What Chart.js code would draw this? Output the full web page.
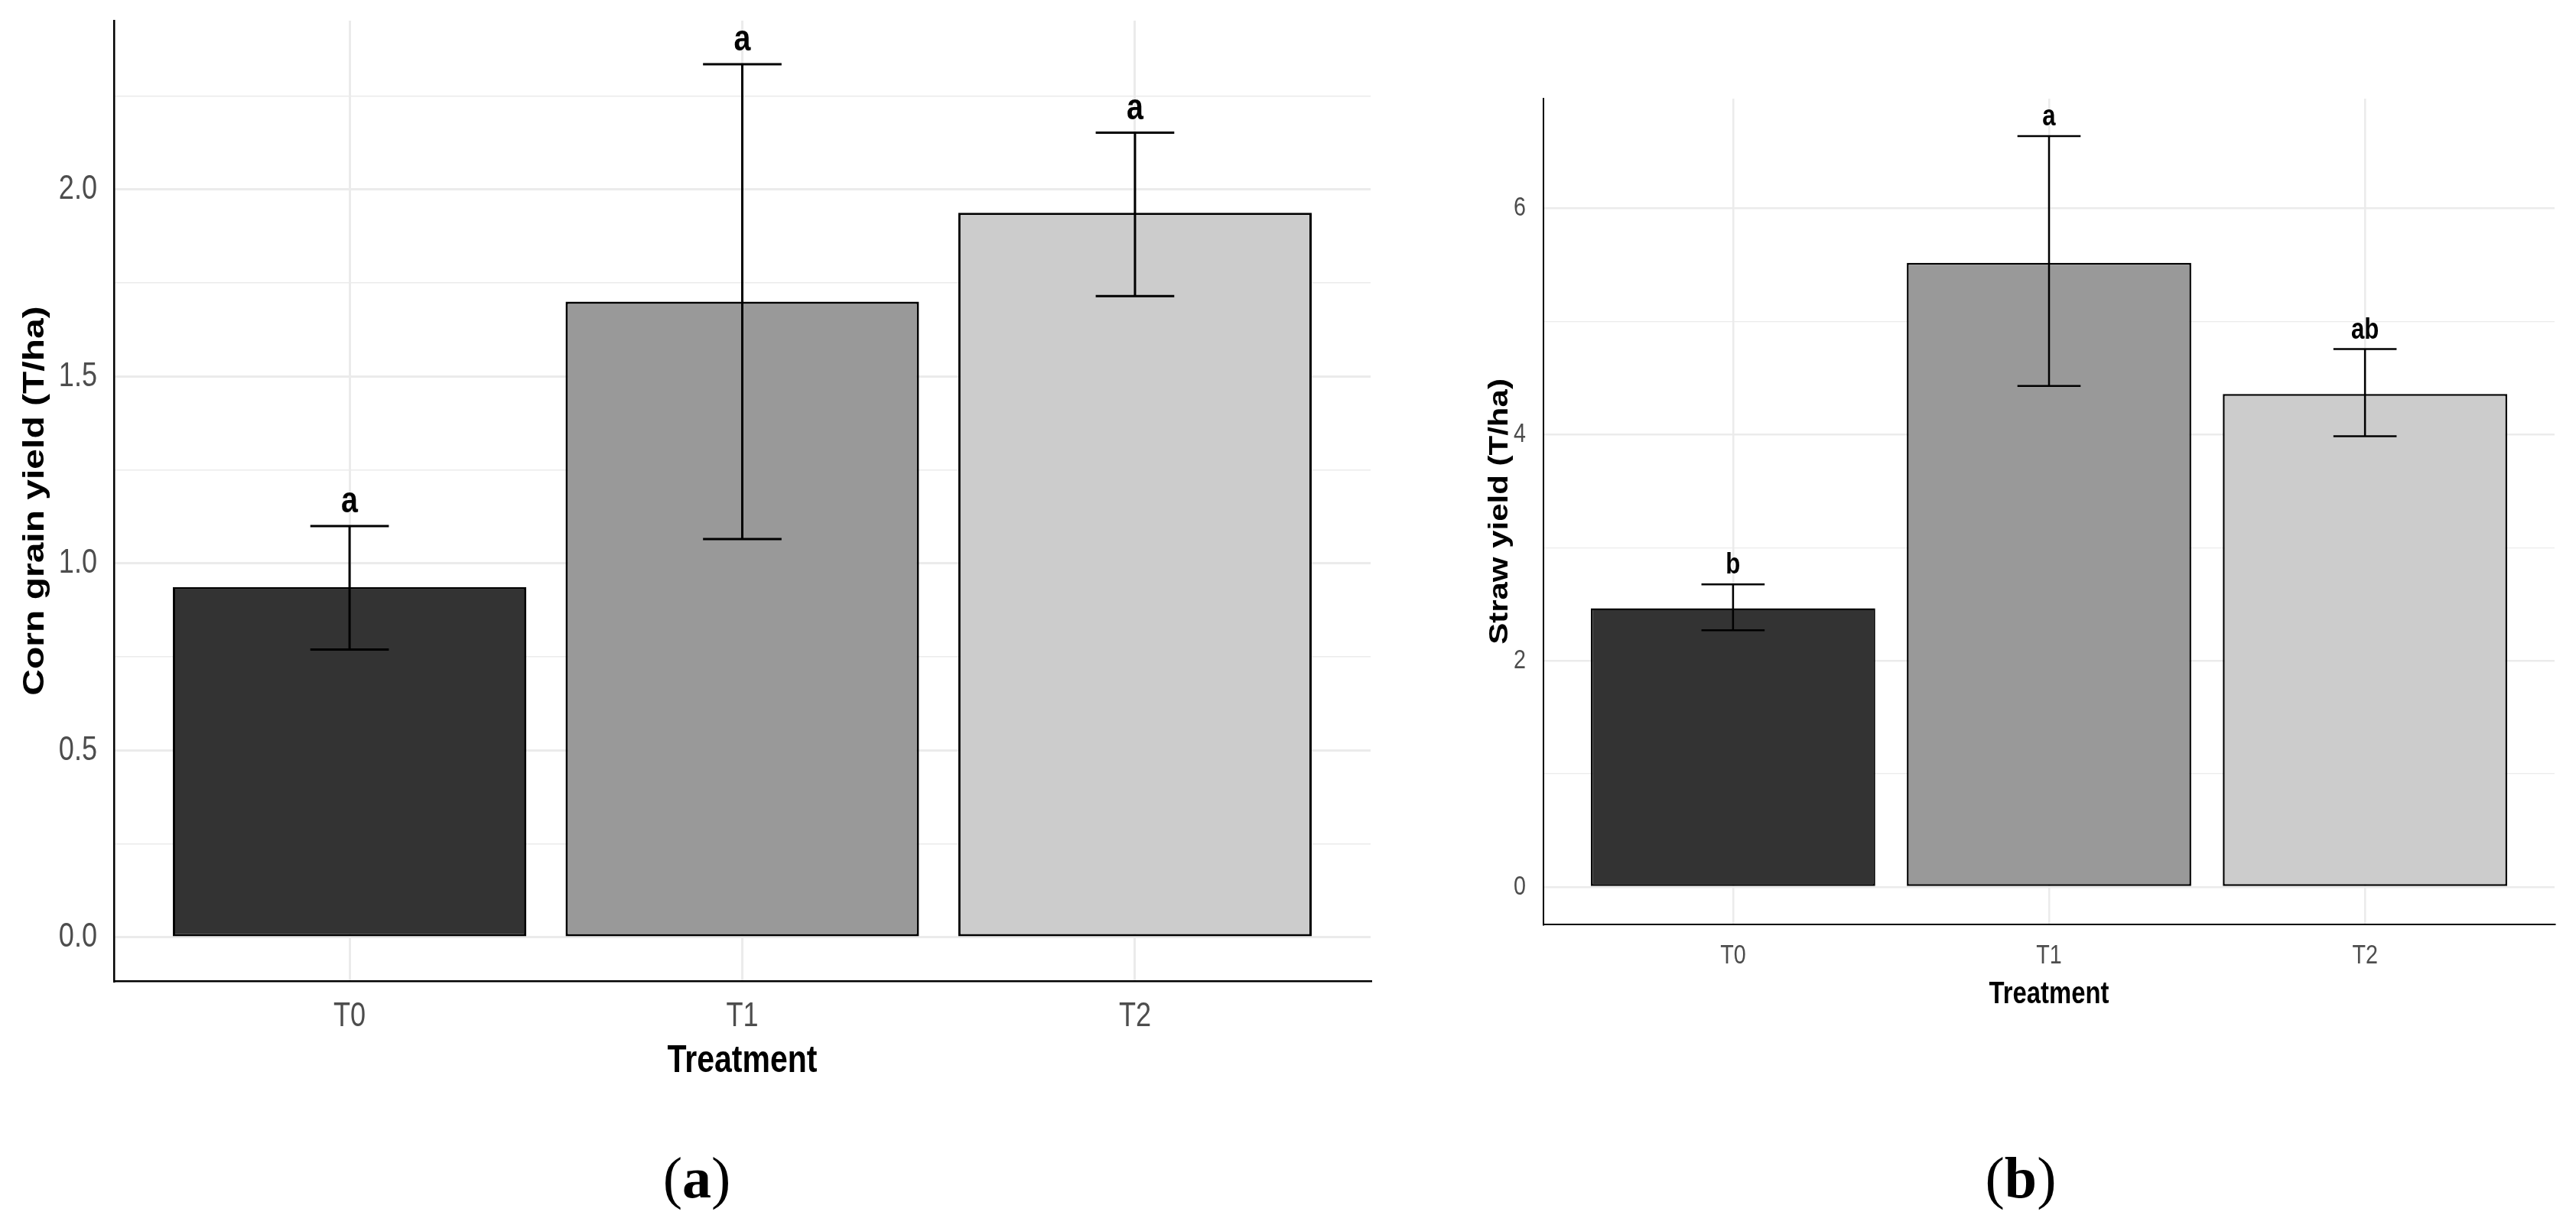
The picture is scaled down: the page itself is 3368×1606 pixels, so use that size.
<!DOCTYPE html>
<html>
<head>
<meta charset="utf-8">
<script src="https://cdn.jsdelivr.net/npm/chart.js@4.4.1/dist/chart.umd.min.js"></script>
<style>
    html, body { margin: 0; padding: 0; background: #fff; }
    body { width: 3368px; height: 1606px; position: relative; overflow: hidden; }
    #chart-a { position: absolute; left: 0; top: 0; }
    #chart-b { position: absolute; left: 1850px; top: 0; }
    .panel-label {
        position: absolute; top: 1502px; width: 300px; text-align: center;
        font-family: "Liberation Serif", "Times New Roman", serif;
        font-size: 76px; line-height: 76px; color: #000;
    }
</style>
</head>
<body>
<canvas id="chart-a" width="1840" height="1440"></canvas>
<canvas id="chart-b" width="1518" height="1360"></canvas>
<div class="panel-label" style="left:761px">(<b>a</b>)</div>
<div class="panel-label" style="left:2492px">(<b>b</b>)</div>
<script>
// values
var categories = ['T0', 'T1', 'T2'];

var grainMean = [0.937, 1.700, 1.938];
var grainUpper = [1.100, 2.335, 2.152];
var grainLower = [0.770, 1.065, 1.715];
var grainLetters = ['a', 'a', 'a'];

var strawMean = [2.465, 5.520, 4.360];
var strawUpper = [2.675, 6.640, 4.757];
var strawLower = [2.270, 4.430, 3.986];
var strawLetters = ['b', 'a', 'ab'];

var barColors = ['#333333', '#999999', '#cccccc'];

var sans = '"Liberation Sans", Arial, sans-serif';
var squeeze = 0.82; // the original figure is squashed sideways

function squeezedText(ctx, text, x, y, rot) {
    ctx.save();
    ctx.translate(x, y);
    ctx.scale(squeeze, 1);
    if (rot) ctx.rotate(rot);
    ctx.fillText(text, 0, 0);
    ctx.restore();
}

// error bars + significance letters
var errorBarPlugin = {
    id: 'errorBars',
    afterDatasetsDraw: function (chart, args, opts) {
        var ctx = chart.ctx;
        var xs = chart.scales.x, ys = chart.scales.y;
        var meta = chart.getDatasetMeta(0);
        ctx.save();
        ctx.strokeStyle = '#000';
        ctx.lineWidth = opts.lineWidth;
        ctx.fillStyle = '#000';
        ctx.font = 'bold ' + opts.fontSize + 'px ' + sans;
        ctx.textAlign = 'center';
        ctx.textBaseline = 'alphabetic';
        meta.data.forEach(function (bar, i) {
            var cx = bar.x;
            var yHi = ys.getPixelForValue(opts.upper[i]);
            var yLo = ys.getPixelForValue(opts.lower[i]);
            var x0 = xs.getPixelForValue(i + 1 - opts.capWidth / 2);
            var x1 = xs.getPixelForValue(i + 1 + opts.capWidth / 2);
            ctx.beginPath();
            ctx.moveTo(cx, yHi); ctx.lineTo(cx, yLo);
            ctx.moveTo(x0, yHi); ctx.lineTo(x1, yHi);
            ctx.moveTo(x0, yLo); ctx.lineTo(x1, yLo);
            ctx.stroke();
            squeezedText(ctx, opts.letters[i], cx, yHi - opts.gap);
        });
        ctx.restore();
    }
};

// tick labels and axis titles, drawn narrow like the original
var axisTextPlugin = {
    id: 'axisText',
    afterDraw: function (chart, args, o) {
        var ctx = chart.ctx;
        var xs = chart.scales.x, ys = chart.scales.y, area = chart.chartArea;
        ctx.save();
        ctx.fillStyle = '#4d4d4d';
        ctx.font = o.tickSize + 'px ' + sans;
        ctx.textAlign = 'right';
        ctx.textBaseline = 'middle';
        ys.ticks.forEach(function (t) {
            if (!o.isMajor(t.value)) return;
            squeezedText(ctx, o.format(t.value), area.left - o.yTickPad, ys.getPixelForValue(t.value));
        });
        ctx.textAlign = 'center';
        ctx.textBaseline = 'alphabetic';
        xs.ticks.forEach(function (t) {
            var lab = categories[Math.round(t.value) - 1];
            if (lab) squeezedText(ctx, lab, xs.getPixelForValue(t.value), area.bottom + o.xTickBase);
        });
        ctx.fillStyle = '#000';
        ctx.font = 'bold ' + o.xTitleSize + 'px ' + sans;
        squeezedText(ctx, o.xTitle, (area.left + area.right) / 2, area.bottom + o.xTitleBase);
        ctx.font = 'bold ' + o.yTitleSize + 'px ' + sans;
        ctx.textBaseline = 'middle';
        squeezedText(ctx, o.yTitle, area.left - o.yTitleOff, (area.top + area.bottom) / 2, -Math.PI / 2);
        ctx.restore();
    }
};

function makePanel(id, mean, upper, lower, letters, yTitle, s) {
    var hi = Math.max.apply(null, upper);
    var pad = hi * 0.05;
    var points = mean.map(function (v, i) { return { x: i + 1, y: v }; });
    var isMajor = function (v) {
        var r = v / s.majorStep;
        return Math.abs(r - Math.round(r)) < 1e-6;
    };
    return new Chart(document.getElementById(id), {
        type: 'bar',
        data: {
            datasets: [{
                data: points,
                backgroundColor: barColors,
                borderColor: '#000',
                borderWidth: s.barBorder,
                borderSkipped: false,
                barPercentage: 0.9,
                categoryPercentage: 1.0
            }]
        },
        options: {
            responsive: false,
            animation: false,
            layout: { padding: { left: s.yAxisW, top: s.top, right: s.right, bottom: s.xAxisH } },
            plugins: {
                legend: { display: false },
                tooltip: { enabled: false },
                errorBars: {
                    upper: upper, lower: lower, letters: letters,
                    capWidth: 0.2, lineWidth: s.errWidth, fontSize: s.letterSize, gap: s.letterGap
                },
                axisText: {
                    isMajor: isMajor,
                    format: function (v) { return v.toFixed(s.decimals); },
                    xTitle: 'Treatment', yTitle: yTitle,
                    tickSize: s.tickSize, xTitleSize: s.xTitleSize, yTitleSize: s.yTitleSize,
                    yTickPad: s.yTickPad, xTickBase: s.xTickBase, xTitleBase: s.xTitleBase, yTitleOff: s.yTitleOff
                }
            },
            scales: {
                x: {
                    type: 'linear',
                    offset: false,
                    min: 0.4,
                    max: categories.length + 0.6,
                    ticks: { display: false, stepSize: 1, includeBounds: false, autoSkip: false },
                    grid: { color: '#ebebeb', lineWidth: s.majorGrid, drawTicks: false, offset: false },
                    border: { display: true, color: '#000', width: s.axisWidth }
                },
                y: {
                    min: -pad,
                    max: hi + pad,
                    ticks: { display: false, stepSize: s.majorStep / 2, includeBounds: false, autoSkip: false },
                    grid: {
                        color: '#ebebeb',
                        drawTicks: false,
                        lineWidth: function (c) { return isMajor(c.tick.value) ? s.majorGrid : s.minorGrid; }
                    },
                    border: { display: true, color: '#000', width: s.axisWidth }
                }
            }
        },
        plugins: [errorBarPlugin, axisTextPlugin]
    });
}

makePanel('chart-a', grainMean, grainUpper, grainLower, grainLetters, 'Corn grain yield (T/ha)', {
    top: 27, right: 48, yAxisW: 149, xAxisH: 157,
    majorStep: 0.5, decimals: 1,
    tickSize: 44, xTitleSize: 50, yTitleSize: 48, letterSize: 48,
    yTickPad: 22, xTickBase: 59, xTitleBase: 119, yTitleOff: 103,
    barBorder: 3, errWidth: 3, axisWidth: 2.5, majorGrid: 3, minorGrid: 1.5, letterGap: 18
});

makePanel('chart-b', strawMean, strawUpper, strawLower, strawLetters, 'Straw yield (T/ha)', {
    top: 129, right: 28, yAxisW: 168, xAxisH: 151,
    majorStep: 2, decimals: 0,
    tickSize: 35, xTitleSize: 40, yTitleSize: 42, letterSize: 38,
    yTickPad: 23, xTickBase: 51, xTitleBase: 103, yTitleOff: 56,
    barBorder: 2.5, errWidth: 2.5, axisWidth: 2, majorGrid: 2.5, minorGrid: 1.2, letterGap: 14
});
</script>
</body>
</html>
